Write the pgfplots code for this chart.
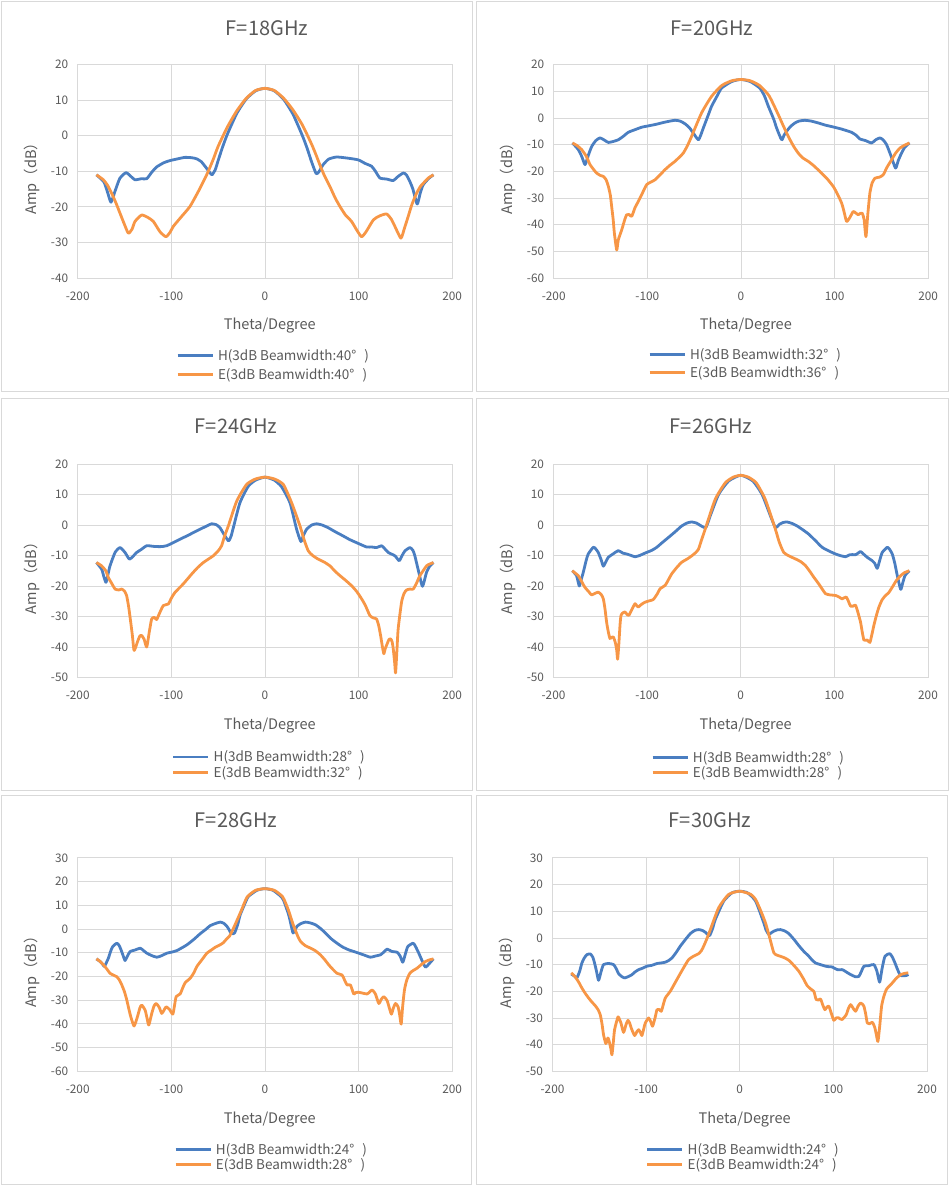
\documentclass[border=0pt]{standalone}
\usepackage{pgfplots}
\pgfplotsset{compat=1.18}
\usepackage{fontspec}
\setmainfont{Noto Sans CJK SC}
\definecolor{bl}{RGB}{74,126,193}
\definecolor{or}{RGB}{247,150,70}
\definecolor{gridc}{RGB}{217,217,217}
\definecolor{txtc}{RGB}{89,89,89}
\newcommand{\tickf}{\fontsize{11.8}{12}\selectfont}
\newcommand{\labf}{\fontsize{14.5}{16}\selectfont}
\newcommand{\legf}{\fontsize{13.5}{14}\selectfont}
\newcommand{\titf}{\fontsize{20}{22}\selectfont}
\pgfplotsset{
 panel/.style={
  scale only axis, width=374.5pt, height=213.5pt, anchor=south west,
  xmin=-200, xmax=200, xtick distance=100, ytick distance=10,
  grid=major, major grid style={draw=gridc, line width=0.75pt},
  axis line style={draw=gridc, line width=0.75pt},
  major tick length=0pt,
  tick label style={font=\tickf, text=txtc},
  yticklabel style={xshift=-6pt},
  xticklabel style={yshift=-10pt},
  /pgf/number format/assume math mode=true,
  xlabel={Theta/Degree}, ylabel={Amp（dB）},
  every axis x label/.style={at={(axis description cs:0.513,-0.2248)}, anchor=center, font=\labf, text=txtc},
  every axis y label/.style={at={(axis description cs:-0.121,0.481)}, rotate=90, anchor=center, font=\labf, text=txtc},
  legend style={draw=none, fill=none, inner sep=0pt, anchor=west, font=\legf, text=txtc,
     nodes={inner sep=1pt}, row sep=2pt, /tikz/every odd column/.append style={column sep=3pt}},
  legend cell align=left,
  legend image code/.code={\draw[#1, line width=2.8pt] (0pt,0pt) -- (35pt,0pt);},
  every axis plot/.append style={line width=2.8pt, smooth, tension=0.35, line join=round},
 }
}
\begin{document}
\begin{tikzpicture}
\path[use as bounding box] (0pt,0pt) rectangle (949pt,-1185pt);
\draw[gridc, line width=0.8pt] (1.7pt,-1.7pt) rectangle (472.7pt,-391.7pt);
\draw[gridc, line width=0.8pt] (476.7pt,-1.7pt) rectangle (948.3pt,-391.7pt);
\draw[gridc, line width=0.8pt] (1.7pt,-398.3pt) rectangle (472.7pt,-790.7pt);
\draw[gridc, line width=0.8pt] (476.7pt,-398.3pt) rectangle (948.3pt,-790.7pt);
\draw[gridc, line width=0.8pt] (1.7pt,-795pt) rectangle (471.7pt,-1184pt);
\draw[gridc, line width=0.8pt] (476.7pt,-795pt) rectangle (947.7pt,-1184pt);

% ---------- 18 GHz
\begin{axis}[panel, at={(77.7pt,-278pt)}, ymin=-40, ymax=20,
  legend style={at={(axis description cs:0.2625,-0.4075)}, row sep=4pt}]
\addplot[bl] coordinates {(-180,-11) (-172,-13) (-168,-16) (-164.4,-18.7) (-160,-15.5) (-155,-12) (-148.4,-10.4) (-143,-11.5) (-138.8,-12.4) (-132,-12.1) (-126.3,-12.1) (-121,-10.3) (-115.7,-8.8) (-108,-7.6) (-101.4,-7) (-93,-6.5) (-85.4,-6.1) (-78,-6.2) (-73,-6.5) (-68,-7.3) (-64,-8.6) (-60,-10) (-56.6,-11) (-53,-9.5) (-50,-7) (-45,-3) (-40,0.5) (-30,6.3) (-20,10.3) (-10,12.6) (0,13.3) (10,12.6) (20,10.2) (30,6.0) (40,0) (45,-3.5) (50,-7.5) (54.8,-10.7) (58,-10) (62,-8.2) (68,-6.6) (76.5,-6) (88,-6.3) (99.6,-6.8) (107,-7.8) (113.9,-8.6) (118,-10) (122.8,-11.9) (130,-12.2) (137,-12.6) (142,-11.5) (147.7,-10.5) (151,-11) (154.8,-12.9) (158,-15) (162.6,-19.2) (166,-16) (169,-13.8) (175,-12) (180,-11)};
\addlegendentry{H(3dB Beamwidth:40°\hspace{0.6em})}
\addplot[or] coordinates {(-180,-11) (-172.6,-12.4) (-168,-14) (-163.7,-16.2) (-159,-19) (-154.8,-21.8) (-150,-25) (-145.9,-27.4) (-142,-26.3) (-138.8,-24.1) (-131.7,-22.3) (-125,-23) (-119.2,-24.1) (-112.1,-27) (-105.7,-28.4) (-101,-27) (-97.9,-25.5) (-89,-22.7) (-80.1,-19.9) (-71.2,-15.7) (-65,-12.5) (-60.5,-10) (-55,-6.5) (-50,-3) (-40,2.5) (-30,7) (-20,10.5) (-10,12.7) (0,13.3) (10,12.7) (20,10.5) (30,7.2) (40,3) (50,-2.5) (55,-5.7) (60,-9.1) (64,-11.5) (69.4,-14.3) (75,-17.5) (80.1,-19.9) (86,-22.3) (92.5,-24.1) (98,-26.5) (103.2,-28.4) (108,-27) (115.7,-23.7) (122,-22.6) (129.9,-22) (135,-23.5) (138.8,-25.5) (145.2,-28.8) (149,-26) (153,-22.7) (157,-19.3) (161.9,-16.2) (166,-14.3) (170.8,-12.9) (175,-11.8) (180,-11)};
\addlegendentry{E(3dB Beamwidth:40°\hspace{0.6em})}
\end{axis}

% ---------- 20 GHz
\begin{axis}[panel, at={(553.7pt,-278pt)}, ymin=-60, ymax=20,
  legend style={at={(axis description cs:0.2518,-0.4005)}, row sep=3pt}]
\addplot[bl] coordinates {(-180,-9.4) (-173.7,-11.9) (-170,-14.5) (-166.5,-17.5) (-163,-14) (-159.4,-10.7) (-155,-8.5) (-150.5,-7.5) (-146,-8.3) (-141.6,-9.2) (-136,-8.8) (-131,-8.2) (-126,-7) (-120.3,-5.4) (-113,-4.4) (-106,-3.5) (-99,-3) (-91.8,-2.5) (-80,-1.5) (-70.5,-0.9) (-65,-1.2) (-59.8,-2.2) (-55,-3.7) (-50.9,-5.7) (-45.6,-8.2) (-43,-6.5) (-40.2,-3.8) (-35,1) (-31.3,4.4) (-25,8.5) (-20.6,11.2) (-10,13.6) (0,14.4) (10,13.6) (20,11.2) (25,8.3) (29.2,4.4) (35,-0.5) (38.1,-3.8) (43.4,-8.2) (46,-6.5) (48.8,-5) (53,-3.2) (57.7,-1.9) (62,-1.2) (68.3,-0.9) (75,-1.2) (82.6,-1.9) (90,-2.7) (98.6,-3.4) (107.5,-4.2) (113,-4.8) (118.1,-5.4) (123,-6.5) (127,-7.9) (133,-8.5) (139.5,-9.4) (144,-8.2) (148.4,-7.5) (152,-8.3) (155.5,-10) (160,-14) (165.1,-18.8) (168,-16) (171.5,-13.2) (175,-11) (180,-9.4)};
\addlegendentry{H(3dB Beamwidth:32°\hspace{0.6em})}
\addplot[or] coordinates {(-180,-9.4) (-175,-10.4) (-170.1,-11.9) (-165,-14.5) (-161.2,-17.5) (-157,-19.5) (-154.1,-20.7) (-150,-21.6) (-147,-21.9) (-144,-23.2) (-141.6,-25.7) (-139.5,-29) (-138.1,-33.2) (-136.5,-38) (-135.2,-43.2) (-132.7,-49.5) (-131,-45.7) (-127.4,-42) (-124,-38) (-122.1,-36.3) (-119.5,-36.2) (-116.7,-36.9) (-113,-33.5) (-109.6,-31.3) (-105,-28) (-100.7,-25) (-96,-24) (-91.8,-23.2) (-86,-21.2) (-81.1,-19.4) (-76,-17.8) (-70.5,-16.3) (-66,-14.8) (-61.6,-13.2) (-57,-10.3) (-52.7,-6.9) (-42,1.9) (-31.3,8.1) (-20.6,12.1) (-10,13.9) (0,14.4) (10,13.9) (20,12.1) (30,8.3) (39.9,1.2) (45,-2.8) (50.5,-6.9) (56,-10.5) (61.2,-13.2) (66,-15) (71.9,-16.3) (78,-18) (86.1,-20.7) (92,-22.8) (98.6,-25.7) (103,-28.5) (107.5,-31.9) (110,-35) (112.8,-38.8) (116,-37.5) (119.9,-35.1) (122.5,-35.6) (125.3,-36.3) (127.5,-35.8) (129.5,-35.7) (131.5,-38) (133.5,-44.5) (135.5,-36) (137.7,-28.2) (140,-24.5) (143.1,-22.6) (148,-22.2) (152,-21.3) (156,-18.5) (160.9,-15.7) (165,-13.3) (169.8,-11.3) (175,-10.2) (180,-9.4)};
\addlegendentry{E(3dB Beamwidth:36°\hspace{0.6em})}
\end{axis}

% ---------- 24 GHz
\begin{axis}[panel, at={(77.7pt,-677.5pt)}, ymin=-50, ymax=20,
  legend style={at={(axis description cs:0.251,-0.4084)}, row sep=1pt}]
\addplot[bl] coordinates {(-180,-12.3) (-174.4,-14.5) (-172,-17) (-169.8,-18.8) (-167.5,-16) (-165.5,-13.4) (-160.1,-9) (-154.8,-7.4) (-149.5,-9) (-144.8,-11.2) (-141,-10.3) (-137,-9) (-132,-8) (-126.3,-6.8) (-119,-7) (-112.1,-7.1) (-105,-6.8) (-94.3,-5.2) (-83.6,-3.6) (-69.4,-1.4) (-62,-0.3) (-57,0.4) (-52,0.1) (-48,-0.9) (-42.7,-3.6) (-38.8,-5.2) (-36,-3.5) (-33.8,-0.9) (-26.7,7.3) (-17.8,12.7) (-10,14.7) (0,15.7) (10,14.7) (17.8,12.5) (26.7,7.3) (33.8,-1.4) (38.4,-5.4) (41,-3.5) (44.5,-1.4) (50,0) (55.2,0.4) (61,0) (67.6,-0.9) (75,-2.2) (83.6,-3.6) (90,-4.7) (97.9,-5.8) (108.5,-7.2) (114,-7.2) (119.2,-7.4) (124.6,-6.8) (128,-7.8) (131.7,-9) (138.8,-10.1) (143.4,-11.7) (146.5,-10) (149.5,-8.5) (154.8,-7.4) (158,-8.3) (160.1,-10.1) (164.8,-16.1) (168.3,-20.1) (172.6,-15.5) (176,-13.5) (180,-12.3)};
\addlegendentry{H(3dB Beamwidth:28°\hspace{0.6em})}
\addplot[or] coordinates {(-180,-12.3) (-174.4,-13.4) (-170,-15) (-167.3,-17.2) (-163,-19.5) (-160.1,-21) (-156,-21.3) (-153,-21) (-150,-21.7) (-147.7,-23.2) (-145.5,-27) (-143.4,-31.8) (-141.5,-36.5) (-139.9,-41.1) (-138,-40) (-136.3,-38.4) (-133.5,-36.3) (-131.7,-36.2) (-129,-37.5) (-126.3,-40) (-123.5,-35) (-121,-30.8) (-118,-30.3) (-115.7,-31) (-112,-28.5) (-108.5,-26.4) (-103.2,-25.9) (-100,-24) (-96.1,-22.1) (-87.2,-19.3) (-78.3,-16.1) (-72,-14) (-65.8,-12.3) (-60,-11.1) (-55.2,-10.1) (-50,-8.5) (-46.3,-6.8) (-43,-3.5) (-39.1,-0.3) (-30.2,7.8) (-19.6,13.3) (-10,15.1) (0,15.7) (10,15.1) (19.6,13.3) (28.5,7.3) (37.4,-0.3) (42,-5) (46.3,-8.5) (51,-10) (56.9,-11.2) (63,-12.1) (69.4,-13.4) (75,-15.2) (80.1,-16.6) (86,-18.1) (92.5,-19.9) (98,-21.8) (103.2,-24.2) (107,-26.2) (112.1,-29.7) (116,-30.5) (119.2,-30.8) (121.5,-33) (123.5,-36.2) (125.5,-40) (127,-42.2) (128.5,-40.5) (130.6,-38.9) (132.5,-37.5) (134.2,-37.3) (135.8,-38.3) (137,-40.5) (138.5,-45) (139.5,-48.5) (140.8,-42) (142.3,-34) (145.9,-25.3) (148.5,-22.5) (151.2,-21.3) (155,-21) (158.4,-21) (162,-19) (165.5,-16.6) (172.6,-13.4) (176,-12.8) (180,-12.3)};
\addlegendentry{E(3dB Beamwidth:32°\hspace{0.6em})}
\end{axis}

% ---------- 26 GHz
\begin{axis}[panel, at={(553.5pt,-677.5pt)}, ymin=-50, ymax=20,
  legend style={at={(axis description cs:0.2603,-0.4098)}, row sep=1pt}]
\addplot[bl] coordinates {(-180,-15) (-175.4,-16.6) (-172.5,-20) (-170.5,-18) (-168.2,-15.5) (-165,-11.5) (-162.9,-9.5) (-157.5,-7.3) (-155,-7.8) (-152.2,-9) (-149,-11.5) (-146.8,-13.5) (-144,-12) (-141.5,-10.6) (-136,-9.4) (-130.8,-8.4) (-126,-9.2) (-121.9,-9.5) (-117,-10) (-112.9,-10.4) (-108,-10) (-102.2,-9.2) (-95,-8.3) (-89.7,-7.3) (-84,-5.8) (-77.3,-4.1) (-70,-2.2) (-63,-0.3) (-57,0.7) (-52.3,1) (-47,0.6) (-43.4,-0.1) (-37.3,-0.8) (-32.6,3) (-23.7,10) (-13,14.4) (0,16.3) (13,14.4) (22.8,10) (31.7,3) (37,-0.8) (41.2,0.2) (45,0.8) (49.4,1) (55,0.5) (60.1,-0.3) (66,-1.5) (72.6,-3) (80,-5.2) (86.9,-7.3) (94,-8.5) (101.2,-9.5) (106,-10) (111.9,-10.4) (116,-9.8) (119,-9.7) (123,-9.7) (127.9,-8.7) (131,-9.5) (135.1,-10.6) (140.4,-11.7) (143,-12.5) (145.8,-14.2) (148.5,-11.5) (151.1,-9) (156.5,-7.3) (159,-8) (161.8,-9.5) (164.5,-12.5) (167.2,-16.6) (170.8,-21.1) (173,-19) (175.4,-16.6) (180,-15)};
\addlegendentry{H(3dB Beamwidth:28°\hspace{0.6em})}
\addplot[or] coordinates {(-180,-15) (-173.6,-16.6) (-170,-18.5) (-166.5,-20.4) (-162,-22) (-159.3,-22.9) (-155,-22.3) (-152.2,-22) (-149,-22.8) (-146.8,-24.2) (-145,-27.5) (-143.3,-31.8) (-141.5,-35) (-139.7,-37.2) (-138,-36.8) (-136.1,-36.7) (-134,-38.5) (-132.5,-41) (-131.5,-44) (-130.2,-39) (-129,-33) (-127.9,-29.6) (-125.5,-28.7) (-123.6,-28.5) (-121,-29.5) (-119.4,-29.6) (-116,-27.5) (-112.9,-25.8) (-111,-26.5) (-109.4,-26.9) (-106,-26) (-102.2,-25.3) (-97,-24.8) (-93.3,-24.4) (-89,-22.5) (-86.2,-20.9) (-80.8,-19.8) (-77,-17.8) (-73.7,-16) (-68,-13.8) (-63,-12.2) (-57,-11.1) (-52.3,-10.1) (-48,-9) (-45.1,-7.9) (-42,-5) (-38,-1.4) (-27.3,8.4) (-16.6,13.8) (-8,15.7) (0,16.3) (8,15.7) (16.6,13.8) (26.2,8.4) (37,-1.4) (41,-5.5) (45.9,-9) (52,-10.2) (58.3,-11.1) (64,-12) (69.1,-13.3) (74,-15.3) (78,-17.1) (83.3,-19.3) (87,-21) (90.5,-22.5) (95,-22.9) (101.2,-23.1) (105,-23.6) (108.3,-24.2) (112.6,-23.6) (115,-25) (117.2,-26.6) (120,-26.6) (122.6,-26.3) (125,-28.5) (127.9,-31.8) (129.7,-35) (131.5,-37.7) (133.5,-37.8) (135.1,-37.7) (137.9,-38.5) (140,-36) (142.2,-32.9) (145,-29.5) (147.6,-26.9) (151,-24.5) (154.7,-23.1) (158,-22.2) (161.8,-20.4) (166,-18.3) (170.8,-16.6) (175,-15.6) (180,-15)};
\addlegendentry{E(3dB Beamwidth:28°\hspace{0.6em})}
\end{axis}

% ---------- 28 GHz
\begin{axis}[panel, at={(77.7pt,-1071.3pt)}, ymin=-60, ymax=30,
  legend style={at={(axis description cs:0.2571,-0.4028)}, row sep=0.5pt}]
\addplot[bl] coordinates {(-180,-12.6) (-176.1,-13.7) (-173.5,-14.8) (-171.5,-15.8) (-169.5,-14.3) (-167.2,-12.3) (-165,-9.6) (-162.6,-7.4) (-158.3,-6) (-156,-6.8) (-154,-8.5) (-151.5,-11.2) (-149.4,-13.3) (-147,-11.5) (-144,-9.5) (-139,-8.9) (-133.3,-8.1) (-130,-9) (-126.2,-10.2) (-121,-11.2) (-115.5,-11.9) (-110,-11.2) (-104.8,-10.2) (-99,-9.7) (-94.1,-9.1) (-89,-8) (-83.4,-6.7) (-76,-4.4) (-69.2,-2) (-63,-0.1) (-58.5,1.4) (-53,2.3) (-47.8,2.9) (-44,2.4) (-40.6,1.1) (-38,-0.5) (-36.4,-1.7) (-34,-2) (-32.4,-1.7) (-29,2) (-26.4,6) (-20,12) (-17.5,13.8) (-8.6,16.3) (0,17) (8.6,16.3) (16.8,13.8) (20,12) (25.3,6) (28,1.5) (30,-1.7) (32,-0.5) (34.2,1.1) (38,2.2) (43.1,2.9) (48,2.6) (53.8,1.8) (60,0) (66.3,-2.4) (71,-4.2) (77,-6) (83,-7.6) (89.5,-8.8) (95,-9.5) (100.2,-10.2) (106,-11) (112.7,-11.9) (118,-11.4) (123.4,-10.9) (127,-9.7) (130.5,-8.5) (135.8,-9.5) (141.2,-9.8) (144.5,-11.5) (147.2,-14) (150,-10.5) (152.6,-7.4) (158.3,-6) (161,-7.5) (164.3,-10.2) (168,-13.5) (171.5,-16.1) (175,-14.8) (180,-12.6)};
\addlegendentry{H(3dB Beamwidth:24°\hspace{0.6em})}
\addplot[or] coordinates {(-180,-12.6) (-176,-13.7) (-172.5,-15.1) (-169,-16.8) (-165.4,-18.7) (-161,-19.6) (-158.3,-20.1) (-155.5,-21.5) (-152.9,-23.6) (-150,-26.5) (-147.6,-29.9) (-145.5,-33.5) (-143.3,-37) (-139.8,-40.9) (-136.2,-37) (-133.5,-33.2) (-131.6,-32.1) (-128,-34.2) (-126,-37.5) (-124.1,-40.5) (-120.9,-35.6) (-118.5,-32.5) (-116.2,-31.4) (-113,-33) (-110.2,-35.6) (-107.5,-34) (-105.5,-32.8) (-102,-33.9) (-98.4,-35.9) (-96.5,-32) (-94.8,-28.5) (-90.6,-27.4) (-88,-25) (-85.2,-22.6) (-79.9,-20.8) (-76,-18.5) (-72.7,-15.8) (-67,-12.8) (-62,-10.2) (-57,-8.8) (-53.1,-7.7) (-48,-6.7) (-44.2,-5.7) (-41,-4.2) (-37.8,-3) (-34,0) (-30,3.5) (-25,8) (-19,13.5) (-10,16.3) (0,17) (10,16.3) (19,13.5) (25,8) (30,2) (35,-3) (38.1,-5.3) (43,-7) (48.8,-8.1) (54,-9.2) (59.2,-10.9) (64,-13) (68.1,-15.1) (72,-16.8) (77,-18.7) (82.4,-19.4) (85,-21.5) (87.7,-23.6) (91.3,-23.6) (94.8,-27.4) (97,-26.8) (100.2,-26.7) (104,-27) (109.1,-27.4) (112,-26.5) (114.4,-25.7) (116.5,-26.5) (118,-27.4) (121.6,-31.4) (124,-29.8) (126.9,-28.5) (130.5,-30.2) (133,-33.5) (135.1,-35.9) (137,-33.5) (139.4,-31.4) (142.2,-32.8) (144,-36.5) (145.5,-40.1) (147,-33) (149,-25.7) (151.5,-21.5) (154.7,-18.7) (158,-17.6) (162.6,-16.5) (167,-15) (171.5,-13.7) (175,-13.1) (180,-12.6)};
\addlegendentry{E(3dB Beamwidth:28°\hspace{0.6em})}
\end{axis}

% ---------- 30 GHz
\begin{axis}[panel, at={(552.5pt,-1071.3pt)}, ymin=-50, ymax=30,
  legend style={at={(axis description cs:0.2489,-0.4028)}, row sep=0.5pt}]
\addplot[bl] coordinates {(-180,-13.5) (-177,-14.2) (-174,-15) (-171,-12.5) (-168.6,-9.4) (-166,-7.5) (-163.3,-6.3) (-159.7,-6) (-157,-7.2) (-155.1,-9.4) (-153,-12.5) (-150.8,-15.9) (-148,-12.5) (-145.5,-10) (-140.1,-9.6) (-134.8,-10) (-132,-11.5) (-129.4,-13.4) (-126,-14.5) (-123,-15) (-119,-14.5) (-115.2,-13.8) (-112,-12.8) (-108,-11.9) (-104,-11.4) (-99.1,-10.6) (-94,-10.3) (-88.4,-9.6) (-84,-9.4) (-79.5,-9.1) (-76,-8.5) (-72.4,-7.5) (-68,-5.5) (-63.5,-3.1) (-58,-0.6) (-52.8,1.6) (-48,2.8) (-43.9,3.1) (-40,2.8) (-36.7,2.1) (-34,1.2) (-32.1,0.9) (-29,3.5) (-26.1,6.9) (-17.1,13.8) (-8.2,16.9) (0,17.5) (8.2,16.9) (16.9,13.8) (25.7,5.6) (28,3) (31,1.3) (34,2) (36.4,2.5) (40,3) (43.5,3.1) (48,2.6) (52.4,1.6) (58,-0.6) (63.1,-2.9) (68,-4.9) (73.8,-6.9) (77,-8.2) (80.9,-9.4) (86,-10) (91.6,-10.6) (95,-10.8) (98.7,-10.9) (104.1,-11.9) (109.4,-11.9) (113,-12.6) (116.6,-13.4) (120,-14) (123.7,-14.6) (127.3,-14.4) (130,-12.5) (132.6,-10.6) (138,-10.4) (143.3,-10) (146.5,-12.5) (149.4,-16.6) (152,-11.5) (155.1,-6.9) (160.1,-5.9) (163,-7.2) (165.8,-9.4) (168.5,-11.8) (171.8,-14.1) (177.9,-14.1) (180,-13.7)};
\addlegendentry{H(3dB Beamwidth:24°\hspace{0.6em})}
\addplot[or] coordinates {(-180,-13.1) (-175.8,-14.6) (-172,-16.6) (-168.6,-18.8) (-165,-20.8) (-161.5,-22.5) (-158,-24) (-154.4,-25.4) (-151.5,-26.8) (-149,-28.8) (-147,-32.5) (-145.5,-36.3) (-143,-39.6) (-140.8,-37.5) (-139,-39.4) (-137.7,-41.5) (-136.5,-43.8) (-135,-39) (-133.7,-34.4) (-130.1,-29.6) (-128.5,-30.5) (-126.9,-31.9) (-124.1,-35.4) (-121.5,-32.5) (-119.4,-30.9) (-117.5,-32) (-115.9,-33.8) (-112.3,-36.6) (-110,-35.2) (-108,-34.4) (-106,-35.5) (-104.5,-36.6) (-102.5,-34) (-100.9,-31.9) (-97.3,-30) (-95,-31.5) (-93.1,-33.1) (-90.5,-30) (-88.4,-26.9) (-86,-26.8) (-83.8,-27.5) (-81.5,-24.8) (-79.5,-22.5) (-74.2,-20) (-70,-17.4) (-65.2,-14.4) (-60,-11.2) (-54.5,-8.1) (-49,-6.8) (-43.9,-5.9) (-41,-4.8) (-38.5,-3.1) (-35,-0.2) (-31.4,3.1) (-22.5,11.3) (-11.8,16.3) (0,17.5) (11.8,16.3) (16.9,14.4) (22,10.5) (27.5,5.6) (32,0) (36.4,-5.6) (40,-6.5) (43.5,-6.9) (48,-7.5) (52.4,-8.4) (58,-10.4) (63.1,-12.5) (68,-15.3) (72,-17.9) (76,-19.2) (79.1,-20) (81.6,-23.1) (84,-23.3) (86.3,-22.9) (88.5,-25) (90.9,-26.9) (93,-26) (95.2,-25.6) (98,-28.5) (100.5,-30.9) (103,-30) (105.2,-29.9) (107.5,-30.4) (109.4,-30.6) (113.7,-28.8) (116,-26.5) (118.4,-25) (121,-26.3) (123.7,-27.5) (126.5,-25.5) (129,-24.4) (131,-24.8) (132.6,-25.6) (134.5,-28.5) (136.2,-31.9) (138.5,-32.2) (141.5,-31.6) (143,-32.5) (144.4,-33.8) (146,-36.5) (147.6,-38.8) (149.5,-33) (151.5,-25.6) (154,-21.8) (156.5,-19.4) (159,-18.3) (162.9,-16.9) (167,-15.2) (171.8,-13.8) (176,-13.3) (180,-13.1)};
\addlegendentry{E(3dB Beamwidth:24°\hspace{0.6em})}
\end{axis}

\node[font=\titf, text=txtc] at (267pt,-28.3pt) {F=18GHz};
\node[font=\titf, text=txtc] at (712pt,-28.3pt) {F=20GHz};
\node[font=\titf, text=txtc] at (236pt,-425.7pt) {F=24GHz};
\node[font=\titf, text=txtc] at (711pt,-425.7pt) {F=26GHz};
\node[font=\titf, text=txtc] at (236pt,-820.5pt) {F=28GHz};
\node[font=\titf, text=txtc] at (710pt,-820.5pt) {F=30GHz};
\end{tikzpicture}
\end{document}
